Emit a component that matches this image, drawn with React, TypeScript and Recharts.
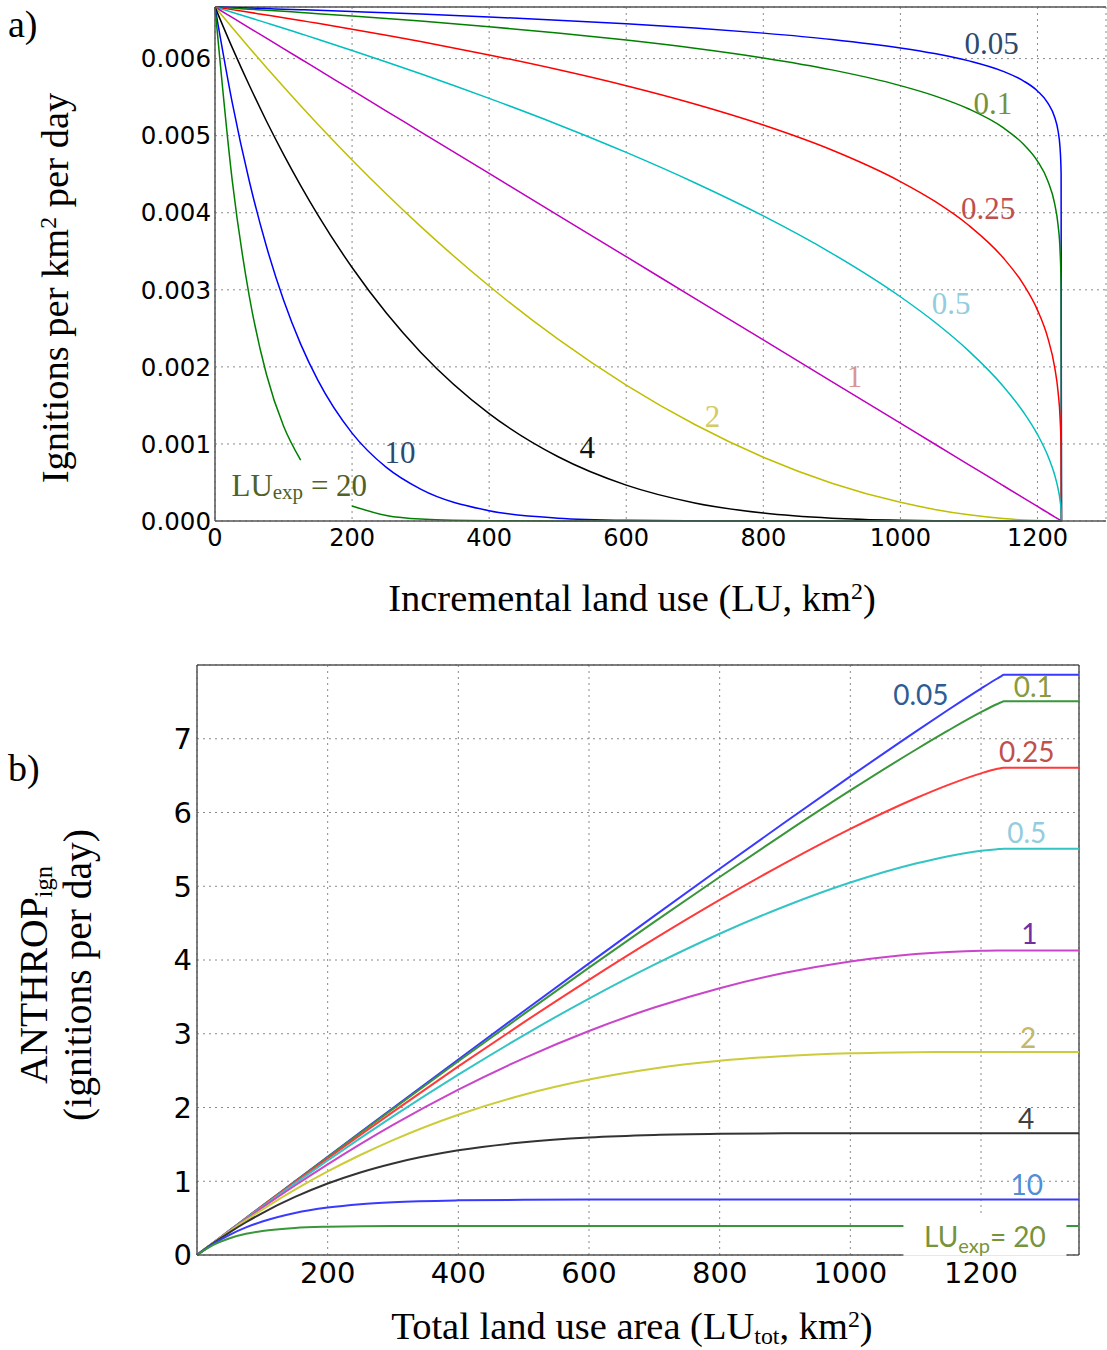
import React from "react";
import {
  CartesianGrid,
  Line,
  LineChart,
  ReferenceDot,
  ReferenceLine,
  XAxis,
  YAxis,
} from "recharts";

// ---- panel a: ignitions per km2 per day vs incremental land use ----
const luA = [
  0, 25, 50, 75, 100, 125, 150, 200, 250, 300, 400, 500, 600, 700, 800, 900,
  1000, 1050, 1100, 1150, 1180, 1200, 1215, 1225, 1230, 1233, 1234.5, 1235,
];
const igA005 = [
  0.00667, 0.006663, 0.006656, 0.006649, 0.006642, 0.006635, 0.006627,
  0.006611, 0.006595, 0.006578, 0.006541, 0.006499, 0.006452, 0.006397,
  0.006331, 0.006249, 0.006139, 0.006066, 0.005971, 0.005835, 0.005709,
  0.005581, 0.005427, 0.005243, 0.005064, 0.004837, 0.004513, 0,
];
const igA01 = [
  0.00667, 0.006656, 0.006642, 0.006628, 0.006614, 0.006599, 0.006584,
  0.006553, 0.006521, 0.006487, 0.006414, 0.006333, 0.006241, 0.006135,
  0.006009, 0.005854, 0.00565, 0.005517, 0.005346, 0.005104, 0.004886,
  0.004671, 0.004416, 0.004121, 0.003845, 0.003508, 0.003054, 0,
];
const igA025 = [
  0.00667, 0.006636, 0.006601, 0.006566, 0.006531, 0.006494, 0.006458,
  0.006382, 0.006303, 0.006222, 0.006048, 0.005858, 0.005648, 0.005411,
  0.005138, 0.004814, 0.004405, 0.00415, 0.003835, 0.003416, 0.003064,
  0.002737, 0.002379, 0.002001, 0.001683, 0.001338, 0.000946, 0,
];
const igA05 = [
  0.00667, 0.006602, 0.006534, 0.006464, 0.006394, 0.006323, 0.006252,
  0.006106, 0.005957, 0.005804, 0.005484, 0.005146, 0.004783, 0.00439,
  0.003959, 0.003474, 0.00291, 0.002582, 0.002205, 0.00175, 0.001408,
  0.001123, 0.000849, 0.0006, 0.000424, 0.000268, 0.000134, 0,
];
const igA1 = [
  0.00667, 0.006535, 0.0064, 0.006265, 0.00613, 0.005995, 0.00586, 0.00559,
  0.00532, 0.00505, 0.00451, 0.00397, 0.00343, 0.002889, 0.002349, 0.001809,
  0.001269, 0.000999, 0.000729, 0.000459, 0.000297, 0.000189, 0.000108,
  0.000054, 0.000027, 0.000011, 0.000003, 0,
];
const igA2 = [
  0.00667, 0.006403, 0.006141, 0.005885, 0.005634, 0.005388, 0.005148,
  0.004685, 0.004243, 0.003823, 0.003049, 0.002362, 0.001763, 0.001252,
  0.000828, 0.000491, 0.000242, 0.00015, 0.00008, 0.000032, 0.000013,
  0.000005, 0.000002, 0, 0, 0, 0, 0,
];
const igA4 = [
  0.00667, 0.006146, 0.005654, 0.005191, 0.004758, 0.004353, 0.003973,
  0.00329, 0.002699, 0.002191, 0.001394, 0.000837, 0.000466, 0.000235,
  0.000103, 0.000036, 0.000009, 0.000003, 0.000001, 0, 0, 0, 0, 0, 0, 0, 0, 0,
];
const igA10 = [
  0.00667, 0.005436, 0.004412, 0.003565, 0.002867, 0.002295, 0.001827,
  0.00114, 0.000695, 0.000413, 0.000133, 0.000037, 0.000009, 0.000002, 0, 0,
  0, 0, 0, 0, 0, 0, 0, 0, 0, 0, 0, 0,
];
const igA20 = [
  0.00667, 0.004431, 0.002918, 0.001905, 0.001232, 0.000789, null, 0.000195,
  0.000072, 0.000026, 0.000003, 0, 0, 0, 0, 0, 0, 0, 0, 0, 0, 0, 0, 0, 0, 0,
  0, 0,
];

// ---- panel b: ANTHROP_ign vs total land use ----
const luB = [
  0, 25, 50, 75, 100, 150, 200, 250, 300, 400, 500, 600, 700, 800, 900, 1000,
  1100, 1150, 1200, 1225, 1230, 1235, 1350,
];
const anB005 = [
  0, 0.167, 0.334, 0.501, 0.667, 1.0, 1.332, 1.663, 1.993, 2.651, 3.305, 3.954,
  4.599, 5.237, 5.868, 6.489, 7.097, 7.393, 7.68, 7.817, 7.843, 7.867, 7.867,
];
const anB01 = [
  0, 0.167, 0.334, 0.5, 0.666, 0.997, 1.326, 1.654, 1.98, 2.627, 3.266, 3.897,
  4.517, 5.126, 5.721, 6.299, 6.851, 7.113, 7.36, 7.471, 7.491, 7.509, 7.509,
];
const anB025 = [
  0, 0.167, 0.333, 0.498, 0.662, 0.988, 1.309, 1.627, 1.941, 2.557, 3.154,
  3.731, 4.286, 4.815, 5.314, 5.778, 6.193, 6.375, 6.531, 6.592, 6.601, 6.608,
  6.608,
];
const anB05 = [
  0, 0.166, 0.331, 0.494, 0.655, 0.972, 1.282, 1.584, 1.879, 2.445, 2.979,
  3.477, 3.937, 4.356, 4.729, 5.05, 5.308, 5.408, 5.481, 5.503, 5.506, 5.507,
  5.507,
];
const anB1 = [
  0, 0.165, 0.328, 0.486, 0.642, 0.942, 1.229, 1.503, 1.763, 2.242, 2.667,
  3.038, 3.355, 3.618, 3.826, 3.98, 4.081, 4.11, 4.127, 4.13, 4.13, 4.13, 4.13,
];
const anB2 = [
  0, 0.164, 0.321, 0.472, 0.616, 0.886, 1.133, 1.356, 1.558, 1.902, 2.173,
  2.379, 2.529, 2.633, 2.698, 2.734, 2.749, 2.752, 2.753, 2.753, 2.753, 2.753,
  2.753,
];
const anB4 = [
  0, 0.161, 0.308, 0.444, 0.569, 0.787, 0.969, 1.119, 1.241, 1.419, 1.529,
  1.593, 1.627, 1.643, 1.65, 1.652, 1.652, 1.652, 1.652, 1.652, 1.652, 1.652,
  1.652,
];
const anB10 = [
  0, 0.151, 0.274, 0.374, 0.454, 0.57, 0.643, 0.689, 0.716, 0.741, 0.749,
  0.751, 0.751, 0.751, 0.751, 0.751, 0.751, 0.751, 0.751, 0.751, 0.751, 0.751,
  0.751,
];
const anB20 = [
  0, 0.137, 0.228, 0.288, 0.326, 0.367, 0.383, 0.39, 0.392, 0.393, 0.393, 0.393,
  0.393, 0.393, 0.393, 0.393, 0.393, 0.393, 0.393, 0.393, 0.393, 0.393, 0.393,
];

const ticksAx = [0, 200, 400, 600, 800, 1000, 1200];
const ticksAy = [0, 0.001, 0.002, 0.003, 0.004, 0.005, 0.006];
const ticksBx = [200, 400, 600, 800, 1000, 1200];
const ticksBy = [0, 1, 2, 3, 4, 5, 6, 7];

const keys = ["k005", "k01", "k025", "k05", "k1", "k2", "k4", "k10", "k20"];

const rowsA = luA.map((x, i) => ({
  x,
  k005: igA005[i],
  k01: igA01[i],
  k025: igA025[i],
  k05: igA05[i],
  k1: igA1[i],
  k2: igA2[i],
  k4: igA4[i],
  k10: igA10[i],
  k20: igA20[i],
}));

const rowsB = luB.map((x, i) => ({
  x,
  k005: anB005[i],
  k01: anB01[i],
  k025: anB025[i],
  k05: anB05[i],
  k1: anB1[i],
  k2: anB2[i],
  k4: anB4[i],
  k10: anB10[i],
  k20: anB20[i],
}));

const colorsA = ["#0000ff", "#008000", "#ff0000", "#00bfbf", "#bf00bf", "#bfbf00", "#000000", "#0000ff", "#008000"];
const colorsB = ["#3a3aff", "#3a963a", "#ff3a3a", "#35c4c4", "#c945c9", "#cccc3a", "#333333", "#3a3aff", "#3a963a"];

const SERIF = "'Liberation Serif', 'Times New Roman', serif";
const SANS = "'DejaVu Sans', sans-serif";
const LATO = "Lato, 'Open Sans', sans-serif";
const FRAME = "#555";
const GRID = "#8a8a8a";

type DotProps = { cx?: number; cy?: number };

function tag(
  content: React.ReactNode,
  color: string,
  family: string,
  size: number,
  bg?: { w: number; h: number },
) {
  return (p: DotProps) => {
    const cx = p.cx ?? 0;
    const cy = p.cy ?? 0;
    return (
      <g>
        {bg && (
          <rect
            x={cx - bg.w / 2}
            y={cy - bg.h / 2}
            width={bg.w}
            height={bg.h}
            fill="#fff"
          />
        )}
        <text
          x={cx}
          y={cy}
          textAnchor="middle"
          dominantBaseline="central"
          fill={color}
          fontFamily={family}
          fontSize={size}
        >
          {content}
        </text>
      </g>
    );
  };
}

const labelsA = [
  { x: 1133, y: 0.00619, text: "0.05", color: "#2e4a6e" },
  { x: 1135, y: 0.00542, text: "0.1", color: "#77923c" },
  { x: 1128, y: 0.00406, text: "0.25", color: "#c0504d" },
  { x: 1074, y: 0.00282, text: "0.5", color: "#93cddd" },
  { x: 933, y: 0.00187, text: "1", color: "#d99694" },
  { x: 726, y: 0.00135, text: "2", color: "#d4cb66" },
  { x: 543, y: 0.00096, text: "4", color: "#111111" },
  { x: 270, y: 0.000895, text: "10", color: "#2c4a70" },
];

const labelsB = [
  { x: 1108, y: 7.61, text: "0.05", color: "#2e5c94" },
  { x: 1280, y: 7.72, text: "0.1", color: "#8a9a3c" },
  { x: 1270, y: 6.83, text: "0.25", color: "#c0504d" },
  { x: 1270, y: 5.74, text: "0.5", color: "#93cddd" },
  { x: 1274, y: 4.37, text: "1", color: "#7030a0" },
  { x: 1272, y: 2.96, text: "2", color: "#c4b76a" },
  { x: 1269, y: 1.86, text: "4", color: "#404040" },
  { x: 1270, y: 0.96, text: "10", color: "#4f8fd8" },
];

const abs = (left: number, top: number): React.CSSProperties => ({
  position: "absolute",
  left,
  top,
  whiteSpace: "nowrap",
});

function PanelA() {
  return (
    <LineChart
      width={1107}
      height={560}
      data={rowsA}
      margin={{ top: 7, right: 1, left: 0, bottom: 0 }}
    >
      <CartesianGrid stroke={GRID} strokeDasharray="2 4" />
      <XAxis
        type="number"
        dataKey="x"
        domain={[0, 1300]}
        ticks={ticksAx}
        height={39}
        tick={{ fontSize: 24, fill: "#000", fontFamily: SANS }}
        tickLine={false}
        tickSize={4}
        tickMargin={4}
        axisLine={{ stroke: FRAME, strokeWidth: 1.5 }}
      />
      <YAxis
        type="number"
        domain={[0, 0.00667]}
        ticks={ticksAy}
        width={215}
        tick={{ fontSize: 24.5, fill: "#000", fontFamily: SANS }}
        tickFormatter={(v: number) => v.toFixed(3)}
        tickLine={false}
        tickSize={2}
        tickMargin={2}
        axisLine={{ stroke: FRAME, strokeWidth: 1.5 }}
      />
      <ReferenceLine y={0.00667} stroke={FRAME} strokeWidth={1.5} />
      {keys.map((k, i) => (
        <Line
          key={k}
          dataKey={k}
          type="monotone"
          stroke={colorsA[i]}
          strokeWidth={1.5}
          dot={false}
          isAnimationActive={false}
        />
      ))}
      {labelsA.map((l) => (
        <ReferenceDot
          key={l.text}
          x={l.x}
          y={l.y}
          r={0}
          ifOverflow="visible"
          shape={tag(l.text, l.color, SERIF, 31)}
        />
      ))}
      <ReferenceDot
        x={123}
        y={0.000467}
        r={0}
        ifOverflow="visible"
        shape={tag(
          <>
            LU
            <tspan fontSize={21} dy={7}>
              exp
            </tspan>
            <tspan dy={-7}> = 20</tspan>
          </>,
          "#4f6228",
          SERIF,
          31,
        )}
      />
    </LineChart>
  );
}

function PanelB() {
  return (
    <LineChart
      width={1107}
      height={660}
      data={rowsB}
      margin={{ top: 25, right: 28, left: 0, bottom: 0 }}
    >
      <CartesianGrid stroke={GRID} strokeDasharray="2 4" />
      <XAxis
        type="number"
        dataKey="x"
        domain={[0, 1350]}
        ticks={ticksBx}
        height={45}
        tick={{ fontSize: 29, fill: "#000", fontFamily: SANS }}
        tickLine={false}
        tickSize={3}
        tickMargin={4}
        axisLine={{ stroke: FRAME, strokeWidth: 1.5 }}
      />
      <YAxis
        type="number"
        domain={[0, 8]}
        ticks={ticksBy}
        width={197}
        tick={{ fontSize: 29, fill: "#000", fontFamily: SANS }}
        tickLine={false}
        tickSize={2}
        tickMargin={3}
        axisLine={{ stroke: FRAME, strokeWidth: 1.5 }}
      />
      <ReferenceLine y={8} stroke={FRAME} strokeWidth={1.5} />
      <ReferenceLine x={1350} stroke={FRAME} strokeWidth={1.5} />
      {keys.map((k, i) => (
        <Line
          key={k}
          dataKey={k}
          type="monotone"
          stroke={colorsB[i]}
          strokeWidth={2}
          dot={false}
          isAnimationActive={false}
        />
      ))}
      {labelsB.map((l) => (
        <ReferenceDot
          key={l.text}
          x={l.x}
          y={l.y}
          r={0}
          ifOverflow="visible"
          shape={tag(l.text, l.color, LATO, 28)}
        />
      ))}
      <ReferenceDot
        x={1206}
        y={0.26}
        r={0}
        ifOverflow="visible"
        shape={tag(
          <>
            LU
            <tspan fontSize={20} dy={9}>
              exp
            </tspan>
            <tspan dy={-9}>= 20</tspan>
          </>,
          "#77933c",
          LATO,
          28,
          { w: 163, h: 40 },
        )}
      />
    </LineChart>
  );
}

export default function App() {
  const title: React.CSSProperties = { fontFamily: SERIF, fontSize: 38.5, color: "#000" };
  const sup: React.CSSProperties = { fontSize: "0.62em", verticalAlign: "0.5em", lineHeight: 0 };
  const sub: React.CSSProperties = { fontSize: "0.62em", verticalAlign: "-0.2em", lineHeight: 0 };
  return (
    <div style={{ position: "relative", width: 1107, height: 1350, background: "#fff", overflow: "hidden" }}>
      <style>{"body{margin:0}"}</style>
      <div style={{ ...abs(0, 0) }}>
        <PanelA />
      </div>
      <div style={{ ...abs(0, 640) }}>
        <PanelB />
      </div>

      <div style={{ ...abs(8, 2), ...title, fontSize: 38 }}>a)</div>
      <div style={{ ...abs(8, 746), ...title, fontSize: 38 }}>b)</div>

      <div
        style={{
          ...abs(55, 288),
          ...title,
          lineHeight: "40px",
          transform: "translate(-50%, -50%) rotate(-90deg)",
        }}
      >
        Ignitions per km<span style={sup}>2</span> per day
      </div>
      <div style={{ ...abs(632, 598), ...title, lineHeight: "44px", transform: "translate(-50%, -50%)" }}>
        Incremental land use (LU, km<span style={sup}>2</span>)
      </div>

      <div
        style={{
          ...abs(56, 975),
          ...title,
          fontSize: 39.5,
          lineHeight: "44px",
          textAlign: "center",
          transform: "translate(-50%, -50%) rotate(-90deg)",
        }}
      >
        ANTHROP<span style={sub}>ign</span>
        <br />
        (ignitions per day)
      </div>
      <div style={{ ...abs(632, 1326), ...title, lineHeight: "42px", transform: "translate(-50%, -50%)" }}>
        Total land use area (LU<span style={sub}>tot</span>, km<span style={sup}>2</span>)
      </div>
    </div>
  );
}
